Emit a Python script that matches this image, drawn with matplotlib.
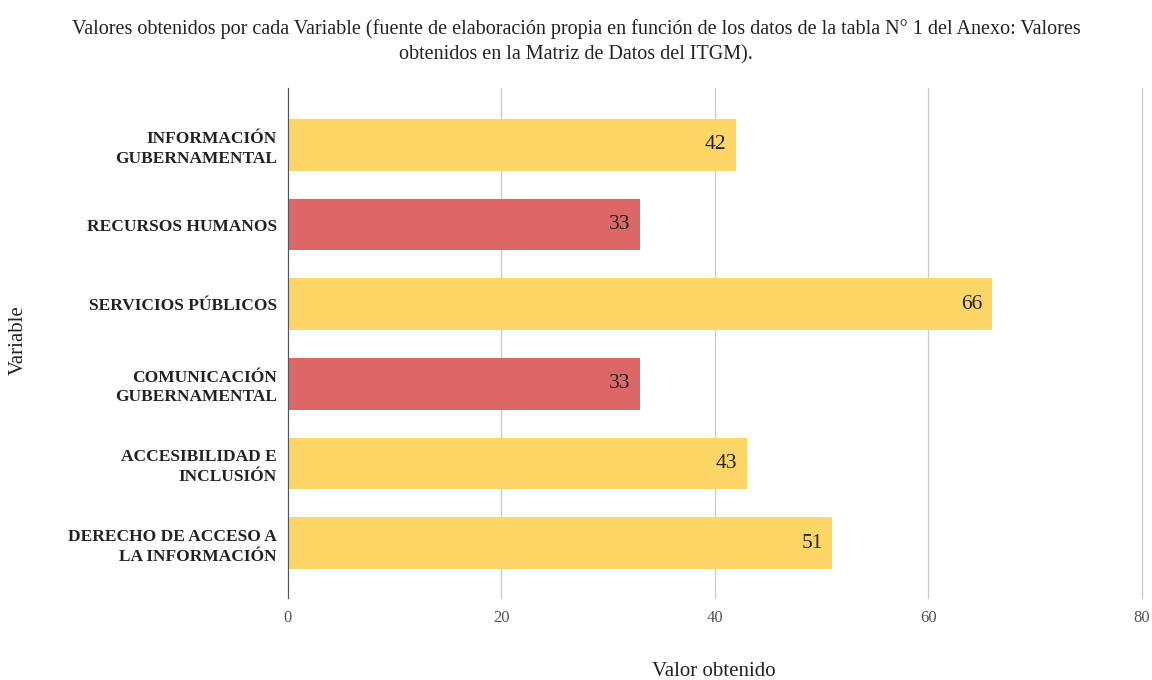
import matplotlib.pyplot as plt

plt.rcParams['font.family'] = ['Liberation Serif', 'DejaVu Serif']

variables = ["INFORMACIÓN\nGUBERNAMENTAL", "RECURSOS HUMANOS", "SERVICIOS PÚBLICOS",
             "COMUNICACIÓN\nGUBERNAMENTAL", "ACCESIBILIDAD E\nINCLUSIÓN",
             "DERECHO DE ACCESO A\nLA INFORMACIÓN"]
valores = [42, 33, 66, 33, 43, 51]
colores = ["#fdd666", "#dd6666", "#fdd666", "#dd6666", "#fdd666", "#fdd666"]
xticks = [0, 20, 40, 60, 80]

fig = plt.figure(figsize=(11.52, 6.8), dpi=100)
ax = fig.add_axes([0.25, 0.1206, 0.741, 0.75])

pos = list(range(len(variables)))
bars = ax.barh(pos, valores, height=0.65, color=colores, zorder=3)
for b, v in zip(bars, valores):
    ax.text(b.get_width() - 0.9, b.get_y() + b.get_height() / 2, str(v),
            ha="right", va="center", fontsize=15.5, color="#222222", zorder=4)

ax.set_yticks(pos)
ax.set_yticklabels(variables, fontweight="bold", fontsize=12.5, color="#222222",
                   linespacing=1.3)
ax.set_ylim(5.69, -0.715)
ax.set_xlim(0, 80)
ax.set_xticks(xticks)
ax.tick_params(axis="x", labelsize=12, colors="#555555", length=0, pad=9)
ax.tick_params(axis="y", length=0, pad=8)
ax.grid(axis="x", color="#cccccc", linewidth=1, zorder=0, clip_on=False)
for s in ["top", "right", "bottom"]:
    ax.spines[s].set_visible(False)
ax.spines["left"].set_color("#555555")
ax.spines["left"].set_zorder(5)

fig.text(0.62, 0.013, "Valor obtenido", fontsize=15, color="#222222",
         ha="center", va="center")
fig.text(0.016, 0.5, "Variable", rotation=90, fontsize=15, color="#222222",
         ha="center", va="center")
fig.suptitle("Valores obtenidos por cada Variable (fuente de elaboración propia en función de los datos de la tabla N° 1 del Anexo: Valores\n"
             "obtenidos en la Matriz de Datos del ITGM).",
             fontsize=14.5, color="#222222", y=0.972, linespacing=1.45)

fig.savefig("out.png", dpi=100)
